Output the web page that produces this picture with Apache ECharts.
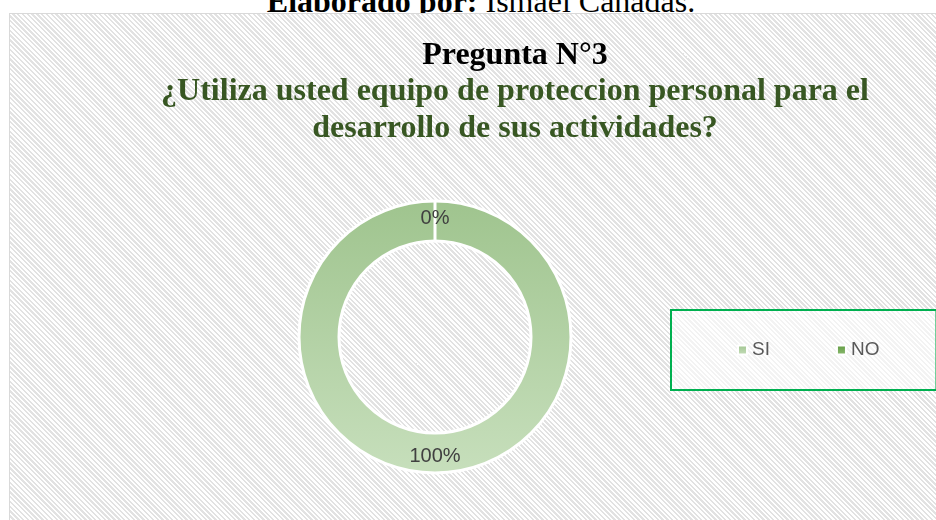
<!DOCTYPE html>
<html>
<head>
<meta charset="utf-8">
<script src="https://cdn.jsdelivr.net/npm/echarts@6/dist/echarts.min.js"></script>
<style>
  html, body { margin: 0; padding: 0; width: 936px; height: 520px; overflow: hidden; background: #fff; }
  .caption {
    position: absolute; left: 0; width: 962px; top: -15px;
    text-align: center; font-family: "Liberation Serif", "Times New Roman", serif;
    font-size: 32px; line-height: 32px; color: #000; white-space: nowrap;
  }
  #chart {
    position: absolute; left: 9px; top: 13px; width: 1010px; height: 520px;
    border: 1px solid #d9d9d9;
    background: repeating-linear-gradient(45deg, #ffffff 0px, #ffffff 1.7px, #e2e2e2 1.7px, #e2e2e2 3.4px);
  }
</style>
</head>
<body>
<div class="caption"><b>Elaborado por:</b> Ismael Cañadas.</div>
<div id="chart"></div>
<script>
// datos de la pregunta 3
var categorias = ['SI', 'NO'];
var valores = [100, 0];
var titulo = 'Pregunta N°3';
var pregunta = ['¿Utiliza usted equipo de proteccion personal para el', 'desarrollo de sus actividades?'];

var colores = [
  ['#9fc48e', '#c7dfbc'],
  ['#5f9a40', '#8dbb72']
];

var chart = echarts.init(document.getElementById('chart'));

var datos = categorias.map(function (c, i) {
  return {
    name: c,
    value: valores[i],
    itemStyle: {
      color: new echarts.graphic.LinearGradient(0, 0, 0, 1, [
        { offset: 0, color: colores[i][0] },
        { offset: 1, color: colores[i][1] }
      ])
    }
  };
});

var option = {
  animation: false,
  title: {
    left: 'center',
    top: 18,
    text: '{a|' + titulo + '}\n' + pregunta.map(function (l) { return '{b|' + l + '}'; }).join('\n'),
    textStyle: {
      rich: {
        a: { fontFamily: 'Liberation Serif', fontWeight: 'bold', fontSize: 32, lineHeight: 36.5, color: '#000' },
        b: { fontFamily: 'Liberation Serif', fontWeight: 'bold', fontSize: 32, lineHeight: 36.5, color: '#385723' }
      }
    }
  },
  legend: {
    orient: 'horizontal',
    left: 661,
    top: 296,
    data: categorias,
    icon: 'rect',
    itemWidth: 9,
    itemHeight: 9,
    itemGap: 66,
    padding: [30, 57, 30, 66],
    borderColor: '#00b050',
    borderWidth: 2,
    backgroundColor: 'rgba(255,255,255,0.6)',
    textStyle: { fontFamily: 'Liberation Sans', fontSize: 19, lineHeight: 20, color: '#595959' }
  },
  series: [{
    type: 'pie',
    center: [425, 323],
    radius: [96, 136],
    startAngle: 90,
    clockwise: true,
    avoidLabelOverlap: false,
    percentPrecision: 0,
    itemStyle: { borderColor: '#fff', borderWidth: 3 },
    label: {
      show: true,
      position: 'inside',
      formatter: '{d}%',
      fontFamily: 'Liberation Sans',
      fontSize: 20,
      color: '#404040'
    },
    labelLine: { show: false },
    emphasis: { disabled: true },
    data: datos
  }]
};

chart.setOption(option);
</script>
</body>
</html>
